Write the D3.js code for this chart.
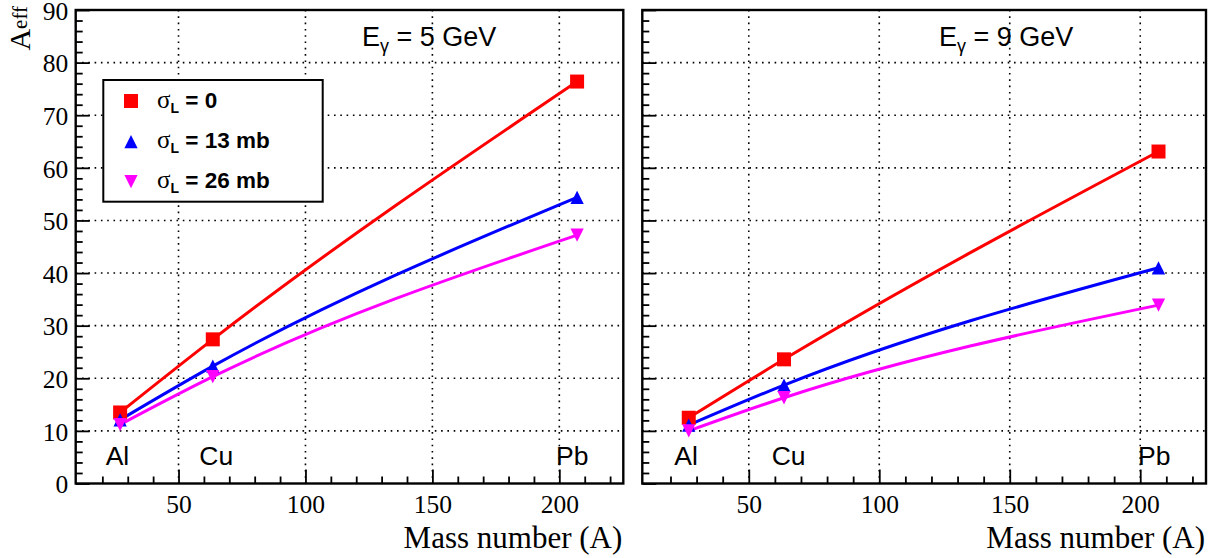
<!DOCTYPE html>
<html>
<head>
<meta charset="utf-8">
<script src="https://cdn.jsdelivr.net/npm/d3@7"></script>
<style>
  html, body { margin: 0; padding: 0; background: #fff; }
  svg { display: block; }
</style>
</head>
<body>
<script>
// ---------------- data ----------------
const categories = ["Al", "Cu", "Pb"];
const massNumbers = [27, 63.5, 207];
const energies = ["5 GeV", "9 GeV"];
const sigmaLabels = ["0", "13 mb", "26 mb"];

const e5_sigma0  = [13.5, 27.4, 76.4];
const e5_sigma13 = [12.1, 22.3, 54.4];
const e5_sigma26 = [11.2, 20.3, 47.2];

const e9_sigma0  = [12.5, 23.6, 63.1];
const e9_sigma13 = [11.1, 18.7, 41.0];
const e9_sigma26 = [10.0, 16.3, 33.9];

const xMajorTicks = [50, 100, 150, 200];
const xMinorTicks = d3.range(20, 230, 10);
const yMajorTicks = [0, 10, 20, 30, 40, 50, 60, 70, 80, 90];
const yMinorTicks = d3.range(2, 90, 2);
const yGridTicks = [10, 20, 30, 40, 50, 60, 70, 80];

// ---------------- layout ----------------
const W = 1217, H = 558;
const colors = ["#ff0000", "#0000ff", "#ff00ff"];
const markers = ["square", "up", "down"];

const panels = [
  { x0: 75.7, x1: 623.3, domain: [9.5, 225.2], series: [e5_sigma0, e5_sigma13, e5_sigma26], energy: energies[0], titleX: 362, showYLabels: true, legend: true,
    elemX: [105.7, 199.3, 556] },
  { x0: 642.3, x1: 1206, domain: [9.2, 225.2], series: [e9_sigma0, e9_sigma13, e9_sigma26], energy: energies[1], titleX: 939, showYLabels: false, legend: false,
    elemX: [674.3, 771.7, 1138] }
];
const yTop = 10, yBot = 483.5;

const svg = d3.select("body").append("svg").attr("width", W).attr("height", H);

const y = d3.scaleLinear().domain([0, 90]).range([yBot, yTop]);

function markerPath(type, s) {
  const p = d3.path();
  if (type === "square") {
    p.rect(-s / 2, -s / 2, s, s);
  } else if (type === "up") {
    p.moveTo(-s / 2, s / 2); p.lineTo(s / 2, s / 2); p.lineTo(0, -s / 2); p.closePath();
  } else {
    p.moveTo(-s / 2, -s / 2); p.lineTo(s / 2, -s / 2); p.lineTo(0, s / 2); p.closePath();
  }
  return p.toString();
}

panels.forEach((P) => {
  const x = d3.scaleLinear().domain(P.domain).range([P.x0, P.x1]);
  const g = svg.append("g");

  // grid
  const grid = g.append("g").attr("stroke", "#000").attr("stroke-width", 1.6)
    .attr("stroke-dasharray", "1.6,4.7");
  grid.selectAll("line.gx").data(xMajorTicks).join("line")
    .attr("x1", d => x(d)).attr("x2", d => x(d)).attr("y1", yTop).attr("y2", yBot);
  grid.selectAll("line.gy").data(yGridTicks).join("line")
    .attr("y1", d => y(d)).attr("y2", d => y(d)).attr("x1", P.x0).attr("x2", P.x1);

  // axes: x
  const xMinor = d3.axisBottom(x).tickValues(xMinorTicks.filter(v => v % 50 !== 0 && v > P.domain[0] && v < P.domain[1]))
    .tickSizeInner(-7).tickSizeOuter(0).tickFormat("");
  g.append("g").attr("transform", `translate(0,${yBot})`).call(xMinor)
    .call(s => s.select(".domain").remove())
    .call(s => s.selectAll("line").attr("stroke-width", 1.8));
  const xMajor = d3.axisBottom(x).tickValues(xMajorTicks).tickSizeInner(-14).tickSizeOuter(0).tickPadding(11.5);
  g.append("g").attr("transform", `translate(0,${yBot})`).call(xMajor)
    .call(s => s.select(".domain").remove())
    .call(s => s.selectAll("line").attr("stroke-width", 1.8))
    .call(s => s.selectAll("text").attr("font-family", "'Liberation Serif', 'Times New Roman', serif")
      .attr("font-size", 25.5).attr("fill", "#000"));

  // axes: y
  const yMinor = d3.axisLeft(y).tickValues(yMinorTicks.filter(v => v % 10 !== 0)).tickSizeInner(-7).tickSizeOuter(0).tickFormat("");
  g.append("g").attr("transform", `translate(${P.x0},0)`).call(yMinor)
    .call(s => s.select(".domain").remove())
    .call(s => s.selectAll("line").attr("stroke-width", 1.8));
  const yMajor = d3.axisLeft(y).tickValues(yMajorTicks).tickSizeInner(-14).tickSizeOuter(0).tickPadding(7.5);
  if (!P.showYLabels) yMajor.tickFormat("");
  g.append("g").attr("transform", `translate(${P.x0},0)`).call(yMajor)
    .call(s => s.select(".domain").remove())
    .call(s => s.selectAll("line").attr("stroke-width", 1.8))
    .call(s => s.selectAll("text").attr("font-family", "'Liberation Serif', 'Times New Roman', serif")
      .attr("font-size", 25.5).attr("fill", "#000").attr("dy", "0.36em"));

  // frame
  g.append("rect").attr("x", P.x0).attr("y", yTop).attr("width", P.x1 - P.x0).attr("height", yBot - yTop)
    .attr("fill", "none").attr("stroke", "#000").attr("stroke-width", 2.4);

  // curves
  const line = d3.line().x((d, i) => x(massNumbers[i])).y(d => y(d)).curve(d3.curveMonotoneX);
  P.series.forEach((vals, si) => {
    g.append("path").datum(vals).attr("d", line)
      .attr("fill", "none").attr("stroke", colors[si]).attr("stroke-width", 3);
  });
  P.series.forEach((vals, si) => {
    g.selectAll(null).data(vals).join("path")
      .attr("transform", (d, i) => `translate(${x(massNumbers[i])},${y(d)})`)
      .attr("d", markerPath(markers[si], si === 0 ? 14 : 13.3))
      .attr("fill", colors[si]);
  });

  // element labels
  g.selectAll(null).data(categories).join("text")
    .attr("x", (d, i) => P.elemX[i]).attr("y", 465)
    .attr("font-family", "'Liberation Sans', Arial, sans-serif").attr("font-size", 26.5)
    .attr("fill", "#000").text(d => d);

  // energy title
  const t = g.append("text").attr("x", P.titleX).attr("y", 45.7)
    .attr("font-family", "'Liberation Sans', Arial, sans-serif").attr("font-size", 27).attr("fill", "#000");
  t.append("tspan").text("E");
  t.append("tspan").attr("font-size", 18).attr("dy", 6).text("γ");
  t.append("tspan").attr("dy", -6).text(" = " + P.energy);

  // x axis title
  g.append("text").attr("x", P.x1 - 1).attr("y", 548).attr("text-anchor", "end")
    .attr("font-family", "'Liberation Serif', 'Times New Roman', serif").attr("font-size", 31)
    .attr("fill", "#000").text("Mass number (A)");

  // legend
  if (P.legend) {
    const lg = g.append("g");
    lg.append("rect").attr("x", 103.3).attr("y", 80).attr("width", 219.4).attr("height", 121.7)
      .attr("fill", "#fff").attr("stroke", "#000").attr("stroke-width", 2);
    const rowY = [101, 141.7, 181.7];
    sigmaLabels.forEach((lab, si) => {
      lg.append("path").attr("transform", `translate(131,${rowY[si]})`)
        .attr("d", markerPath(markers[si], si === 0 ? 14 : 13.3)).attr("fill", colors[si]);
      const tx = lg.append("text").attr("x", 157).attr("y", rowY[si] + 6.5).attr("fill", "#000");
      tx.append("tspan").attr("font-family", "'Liberation Serif', 'Times New Roman', serif").attr("font-size", 25).text("σ");
      tx.append("tspan").attr("font-family", "'Liberation Sans', Arial, sans-serif").attr("font-weight", "bold")
        .attr("font-size", 14).attr("dy", 5).text("L");
      tx.append("tspan").attr("font-family", "'Liberation Sans', Arial, sans-serif").attr("font-weight", "bold")
        .attr("font-size", 22.5).attr("dy", -5).text(" = " + lab);
    });
  }
});

// y axis title (left panel)
const yt = svg.append("text").attr("transform", "translate(30,6) rotate(-90)")
  .attr("text-anchor", "end").attr("fill", "#000")
  .attr("font-family", "'Liberation Serif', 'Times New Roman', serif");
yt.append("tspan").attr("font-size", 30).text("A");
yt.append("tspan").attr("font-size", 21).attr("dy", -3).text("eff");
</script>
</body>
</html>
